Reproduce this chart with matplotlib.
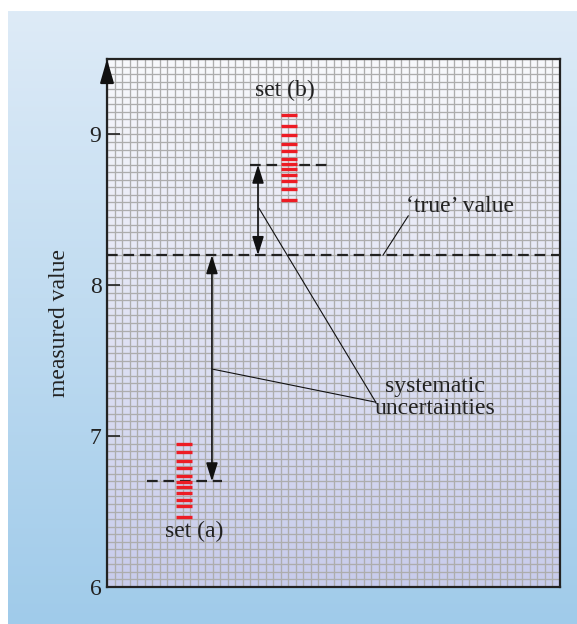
import numpy as np
import matplotlib
matplotlib.use("Agg")
import matplotlib.pyplot as plt
from matplotlib.colors import LinearSegmentedColormap

# ---- data ----
true_value = 8.2
set_a_x = 0.51
set_a_values = [6.947, 6.894, 6.832, 6.788, 6.733, 6.695, 6.662, 6.625, 6.578, 6.534, 6.464]
set_a_mean = 6.7
set_b_x = 1.205
set_b_values = [9.130, 9.053, 8.998, 8.938, 8.887, 8.839, 8.806, 8.768, 8.728, 8.689, 8.636, 8.568]
set_b_mean = 8.8
yticks = [6, 7, 8, 9]
ytick_labels = ["6", "7", "8", "9"]

plt.rcParams['font.family'] = ['Liberation Serif', 'DejaVu Serif']

W, H = 577, 624
fig = plt.figure(figsize=(W / 100, H / 100), dpi=100)
fig.patch.set_facecolor('white')

# background panel with vertical gradient
bg = fig.add_axes([8 / W, 0, (W - 8) / W, (H - 11) / H], zorder=-10)
cm_bg = LinearSegmentedColormap.from_list('bg', ['#a0cbea', '#deebf7'])
bg.imshow(np.linspace(0, 1, 256).reshape(-1, 1), origin='lower', aspect='auto',
          cmap=cm_bg, extent=[0, 1, 0, 1])
bg.set_axis_off()

# main axes
x0, x1, ytop, ybot = 107, 560, 59, 587
ax = fig.add_axes([x0 / W, (H - ybot) / H, (x1 - x0) / W, (ybot - ytop) / H])
ax.set_xlim(0, 3)
ax.set_ylim(6, 9.5)
cm_pa = LinearSegmentedColormap.from_list('pa', ['#c8ccec', '#f8f9fc'])
ax.imshow(np.linspace(0, 1, 256).reshape(-1, 1), origin='lower', aspect='auto',
          cmap=cm_pa, extent=[0, 3, 6, 9.5], zorder=0)

# graph-paper grid
gx = np.arange(0, 3.0001, 0.05)
gy = np.arange(6, 9.5001, 0.05)
ax.vlines(gx, 6, 9.5, color='#adadad', lw=0.95, zorder=1)
ax.hlines(gy, 0, 3, color='#adadad', lw=0.95, zorder=1)

for s in ['left', 'top', 'bottom', 'right']:
    ax.spines[s].set_color('#222222')
    ax.spines[s].set_linewidth(1.6)
    ax.spines[s].set_zorder(6)

ax.set_xticks([])
ax.set_yticks(yticks)
ax.set_yticklabels(ytick_labels, fontsize=17)
ax.tick_params(axis='y', direction='in', length=9, width=1.2, pad=4, colors='#222222')
ax.set_ylabel('measured value', fontsize=17, labelpad=14, color='#222222')

# dashed lines
dash = (0, (4.8, 2.6))
ax.plot([0, 3], [true_value, true_value], color='#222222', lw=1.6, ls=dash, zorder=3)
ax.plot([0.265, 0.76], [set_a_mean, set_a_mean], color='#222222', lw=1.6, ls=dash, zorder=3)
ax.plot([0.95, 1.46], [set_b_mean, set_b_mean], color='#222222', lw=1.6, ls=dash, zorder=3)

# measurement bars
hw = 0.053
ax.hlines(set_a_values, set_a_x - hw, set_a_x + hw, color='#ed1c24', lw=2.4, zorder=4)
ax.hlines(set_b_values, set_b_x - hw, set_b_x + hw, color='#ed1c24', lw=2.4, zorder=4)

# double arrows
ap = dict(arrowstyle='<|-|>,head_length=0.7,head_width=0.22', color='#111111', lw=1.2,
          shrinkA=0, shrinkB=0, mutation_scale=16)
ax.annotate('', xy=(0.695, set_a_mean), xytext=(0.695, true_value), arrowprops=ap, zorder=5)
ax.annotate('', xy=(1.0, true_value), xytext=(1.0, set_b_mean), arrowprops=ap, zorder=5)

# leader lines
ax.plot([0.70, 1.78], [7.444, 7.225], color='#111111', lw=0.8, zorder=5)
ax.plot([1.007, 1.78], [8.51, 7.225], color='#111111', lw=0.8, zorder=5)
ax.plot([1.828, 1.995], [8.2, 8.46], color='#111111', lw=0.8, zorder=5)

# texts
tc = '#222222'
ax.text(2.17, 7.255, 'systematic\nuncertainties', ha='center', va='center', fontsize=17,
        color=tc, linespacing=1.08, zorder=7)
ax.text(2.34, 8.52, '\u2018true\u2019 value', ha='center', va='center', fontsize=17, color=tc, zorder=7)
ax.text(1.18, 9.29, 'set (b)', ha='center', va='center', fontsize=17, color=tc, zorder=7)
ax.text(0.58, 6.37, 'set (a)', ha='center', va='center', fontsize=17, color=tc, zorder=7)

# y-axis arrow head
ax.annotate('', xy=(0, 9.5), xytext=(0, 9.35),
            arrowprops=dict(arrowstyle='-|>,head_length=0.9,head_width=0.26', color='#111111',
                            lw=1.6, shrinkA=0, shrinkB=0, mutation_scale=16),
            annotation_clip=False, zorder=8)

fig.savefig('out.png', dpi=100)
